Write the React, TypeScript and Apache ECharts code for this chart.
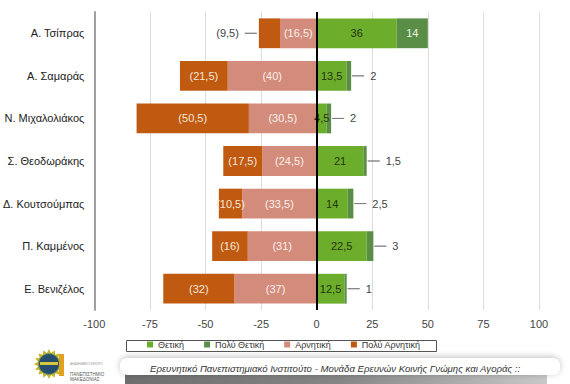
import React, { useEffect, useRef } from "react";
import * as echarts from "echarts";

const categories = [
  "Α. Τσίπρας",
  "Α. Σαμαράς",
  "Ν. Μιχαλολιάκος",
  "Σ. Θεοδωράκης",
  "Δ. Κουτσούμπας",
  "Π. Καμμένος",
  "Ε. Βενιζέλος",
];
const seriesNames = ["Θετική", "Πολύ Θετική", "Αρνητική", "Πολύ Αρνητική"];
const positive = [36, 13.5, 4.5, 21, 14, 22.5, 12.5];
const veryPositive = [14, 2, 2, 1.5, 2.5, 3, 1];
const negative = [16.5, 40, 30.5, 24.5, 33.5, 31, 37];
const veryNegative = [9.5, 21.5, 50.5, 17.5, 10.5, 16, 32];
const footerText =
  "Ερευνητικό Πανεπιστημιακό Ινστιτούτο - Μονάδα Ερευνών Κοινής Γνώμης και Αγοράς ::";

const colors = ["#6cae2b", "#5a8e46", "#d38b7c", "#c05a10"];
const FONT = "'Liberation Sans', Arial, sans-serif";

const fmt = (v: number) => String(Math.abs(v)).replace(".", ",");

export default function App() {
  const ref = useRef<HTMLDivElement>(null);
  useEffect(() => {
    if (!ref.current) return;
    document.body.style.margin = "0";
    const chart = echarts.init(ref.current, null, { renderer: "svg" });

    const lineRich = {
      ln: { width: 12, height: 0, borderColor: "#777", borderWidth: 0.8 },
      tl: { color: "#444", fontSize: 11, fontFamily: FONT, padding: [0, 0, 0, 6] },
      tr: { color: "#444", fontSize: 11, fontFamily: FONT, padding: [0, 6, 0, 0] },
    };

    const star: number[][] = [];
    for (let i = 0; i < 32; i++) {
      const a = (i / 32) * Math.PI * 2;
      const r = i % 2 === 0 ? 15 : 11;
      star.push([49 + r * Math.cos(a), 364 + r * Math.sin(a)]);
    }

    chart.setOption({
      animation: false,
      backgroundColor: "#ffffff",
      textStyle: { fontFamily: FONT },
      grid: { left: 92, right: 31, top: 12, bottom: 74, containLabel: false },
      xAxis: {
        type: "value",
        min: -100,
        max: 100,
        interval: 25,
        axisLine: { show: false },
        axisTick: { show: false },
        axisLabel: { fontSize: 11, color: "#444", margin: 8, fontFamily: FONT },
        splitLine: { show: true, lineStyle: { color: "#dcdcdc", width: 1 } },
      },
      yAxis: {
        type: "category",
        inverse: true,
        data: categories,
        axisLine: { show: true, onZero: false, lineStyle: { color: "#a0a0a0", width: 2 } },
        axisTick: { show: false },
        axisLabel: { fontSize: 11, color: "#222", margin: 10, fontFamily: FONT },
      },
      legend: {
        data: seriesNames,
        left: 147,
        top: 340,
        padding: 0,
        itemWidth: 6,
        itemHeight: 6,
        itemGap: 20,
        icon: "rect",
        textStyle: { fontSize: 9, color: "#333", fontFamily: FONT },
      },
      series: [
        {
          name: seriesNames[0],
          type: "bar",
          stack: "all",
          barWidth: "70%",
          itemStyle: { color: colors[0] },
          data: positive,
          label: {
            show: true,
            position: "inside",
            color: "#25330c",
            fontSize: 11,
            fontFamily: FONT,
            formatter: (p: any) => fmt(p.value),
          },
          markLine: {
            silent: true,
            symbol: ["none", "none"],
            label: { show: false },
            lineStyle: { color: "#000", width: 2, type: "solid" },
            data: [{ xAxis: 0 }],
          },
        },
        {
          name: seriesNames[1],
          type: "bar",
          stack: "all",
          barWidth: "70%",
          itemStyle: { color: colors[1] },
          data: veryPositive.map((v) =>
            v >= 5 ? { value: v, label: { position: "inside", color: "#eef3e8" } } : v
          ),
          label: {
            show: true,
            position: "right",
            distance: 1,
            fontSize: 11,
            fontFamily: FONT,
            color: "#444",
            formatter: (p: any) =>
              p.value >= 5 ? fmt(p.value) : `{ln|}{tl|${fmt(p.value)}}`,
            rich: lineRich,
          },
        },
        {
          name: seriesNames[2],
          type: "bar",
          stack: "all",
          barWidth: "70%",
          itemStyle: { color: colors[2] },
          data: negative.map((v) => -v),
          label: {
            show: true,
            position: "inside",
            color: "#fbf0ea",
            fontSize: 11,
            fontFamily: FONT,
            formatter: (p: any) => `(${fmt(p.value)})`,
          },
        },
        {
          name: seriesNames[3],
          type: "bar",
          stack: "all",
          barWidth: "70%",
          itemStyle: { color: colors[3] },
          data: veryNegative.map((v) =>
            v < 10 ? { value: -v, label: { position: "left", distance: 2 } } : -v
          ),
          label: {
            show: true,
            position: "inside",
            color: "#f7e6da",
            fontSize: 11,
            fontFamily: FONT,
            formatter: (p: any) =>
              Math.abs(p.value) < 10
                ? `{tr|(${fmt(p.value)})}{ln|}`
                : `(${fmt(p.value)})`,
            rich: lineRich,
          },
        },
      ],
      graphic: [
        {
          type: "rect",
          shape: { x: 126.5, y: 340.5, width: 310, height: 11 },
          style: { fill: "none", stroke: "#555", lineWidth: 1 },
          z: 10,
        },
        {
          type: "rect",
          shape: { x: 125, y: 374, width: 422, height: 10 },
          style: {
            fill: new echarts.graphic.LinearGradient(0, 0, 1, 0, [
              { offset: 0, color: "#6e6e6e" },
              { offset: 0.5, color: "#858585" },
              { offset: 1, color: "#c8c8c8" },
            ]),
          },
        },
        {
          type: "rect",
          shape: { x: 120, y: 358, width: 440, height: 17, r: 8 },
          style: {
            fill: "#ffffff",
            shadowBlur: 6,
            shadowColor: "rgba(0,0,0,0.25)",
            shadowOffsetY: -1,
          },
        },
        {
          type: "text",
          x: 150,
          y: 368,
          style: {
            text: footerText,
            fontSize: 9.6,
            fontStyle: "italic",
            fontFamily: FONT,
            fill: "#333",
            verticalAlign: "middle",
          },
        },
        {
          type: "polygon",
          shape: { points: star },
          style: { fill: "#c9b227" },
        },
        {
          type: "circle",
          shape: { cx: 49, cy: 364, r: 10.5 },
          style: { fill: "#254e6e", stroke: "#7aa34a", lineWidth: 1 },
        },
        {
          type: "rect",
          shape: { x: 40, y: 362, width: 18, height: 3 },
          style: { fill: "#d8c640" },
        },
        {
          type: "rect",
          shape: { x: 59, y: 354, width: 5, height: 22 },
          style: { fill: "#e0a020" },
        },
        {
          type: "text",
          x: 70,
          y: 362,
          style: { text: "ΑΚΑΔΗΜΑΪΚΟ ΚΕΝΤΡΟ", fontSize: 3, fill: "#999", fontFamily: FONT },
        },
        {
          type: "text",
          x: 70,
          y: 372,
          style: { text: "ΠΑΝΕΠΙΣΤΗΜΙΟ", fontSize: 4.5, fill: "#555", fontFamily: FONT },
        },
        {
          type: "text",
          x: 70,
          y: 377,
          style: { text: "ΜΑΚΕΔΟΝΙΑΣ", fontSize: 4.5, fill: "#555", fontFamily: FONT },
        },
      ],
    });
    return () => chart.dispose();
  }, []);

  return (
    <div
      ref={ref}
      style={{ position: "absolute", left: 0, top: 0, width: 570, height: 384 }}
    />
  );
}
